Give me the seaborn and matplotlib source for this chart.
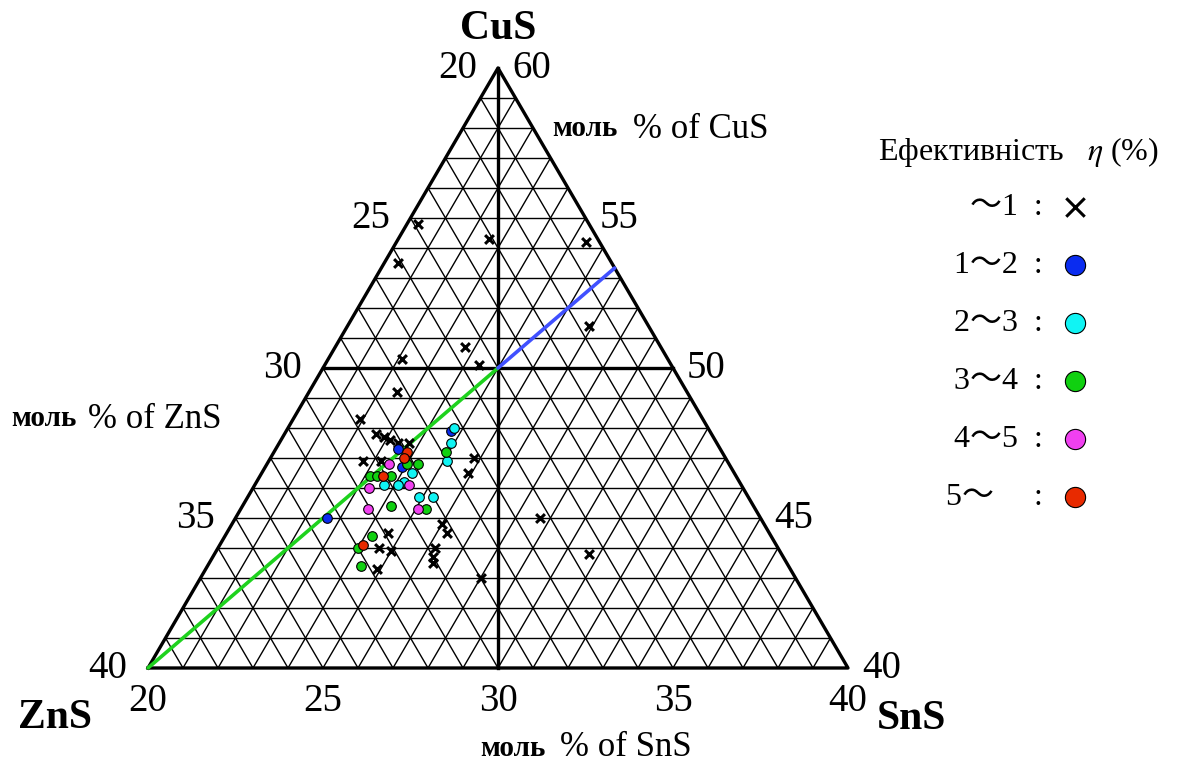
import numpy as np
import pandas as pd
import matplotlib
matplotlib.use("Agg")
import matplotlib.pyplot as plt
import seaborn as sns

# ---------------- data (mol %) ----------------
# efficiency < 1 %
x_cus = [54.8, 54.3, 54.2, 53.5, 51.4, 50.7, 50.3, 50.1, 49.2, 48.3, 47.8, 47.7, 47.6, 47.5, 47.5,
         46.9, 46.9, 47.0, 46.5, 45.0, 43.8, 43.0, 44.8, 44.5, 44.0, 43.7, 43.5, 44.5, 44.0, 43.9, 43.3]
x_sns = [20.3, 22.6, 25.4, 20.4, 26.9, 23.7, 22.1, 24.4, 22.5, 21.9, 22.6, 22.9, 23.1, 23.4, 23.7,
         22.7, 23.2, 25.8, 25.9, 28.7, 30.7, 28.0, 26.0, 26.3, 26.2, 26.3, 26.4, 24.6, 24.6, 25.0, 24.9]
# 1-2 %
b_cus = [47.3, 47.9, 45.0, 46.7]
b_sns = [23.5, 24.7, 22.6, 23.9]
# 2-3 %
c_cus = [48.0, 47.5, 46.9, 46.5, 46.2, 46.1, 46.1, 45.7, 45.7]
c_sns = [24.75, 24.9, 25.1, 24.3, 24.2, 23.7, 24.1, 24.9, 25.3]
# 3-4 %
g_cus = [46.8, 46.8, 46.4, 46.4, 46.4, 47.2, 45.4, 45.3, 44.4, 44.0, 43.4]
g_sns = [24.0, 24.3, 23.15, 23.35, 23.75, 24.9, 24.25, 25.3, 24.2, 24.0, 24.4]
# 4-5 %
m_cus = [46.8, 46.0, 46.1, 45.3, 45.3]
m_sns = [23.5, 23.3, 24.4, 23.65, 25.05]
# > 5 %
r_cus = [47.2, 47.0, 46.4, 44.1]
r_sns = [23.8, 23.8, 23.5, 24.1]

groups = ["～1  :", "1～2  :", "2～3  :", "3～4  :", "4～5  :", "5～     :"]
group_cus = [x_cus, b_cus, c_cus, g_cus, m_cus, r_cus]
group_sns = [x_sns, b_sns, c_sns, g_sns, m_sns, r_sns]
group_colors = ["black", "#0a2cf0", "#10f4f4", "#10d010", "#f040f0", "#e82a00"]

left_ticks = [20, 25, 30, 35, 40]     # ZnS
right_ticks = [60, 55, 50, 45, 40]    # CuS
bottom_ticks = [20, 25, 30, 35, 40]   # SnS

# ---------------- style ----------------
sns.set_style("white")
plt.rcParams["font.family"] = ["Liberation Serif", "Noto Sans CJK JP", "DejaVu Sans"]
plt.rcParams["mathtext.fontset"] = "stix"
plt.rcParams["text.color"] = "black"


def tern(cus, sns_):
    """CuS / SnS (mol %) -> cartesian coordinates of the 20 % sub-triangle."""
    cus = np.asarray(cus, dtype=float)
    sns_ = np.asarray(sns_, dtype=float)
    y = cus - 40.0
    x = (sns_ - 20.0) + y / 2.0
    return x, y


fig = plt.figure(figsize=(11.8, 7.66), dpi=100)
ax = fig.add_axes([0, 0, 1, 1])
ax.set_xlim(-148 / 35, (1180 - 148) / 35)
ax.set_ylim(-(766 - 668) / 30, 668 / 30)
ax.axis("off")

# ---------------- grid ----------------
thin = dict(color="black", lw=1.0, zorder=1)
for k in range(1, 20):
    xa, ya = tern([40 + k, 40 + k], [20, 40 - k])
    ax.plot(xa, ya, **thin)
    xa, ya = tern([40, 60 - k], [20 + k, 20 + k])
    ax.plot(xa, ya, **thin)
    xa, ya = tern([40, 60 - k], [40 - k, 20])
    ax.plot(xa, ya, **thin)

thick = dict(color="black", lw=2.4, zorder=2, solid_capstyle="projecting")
xa, ya = tern([40, 40, 60, 40], [20, 40, 20, 20])
ax.plot(xa, ya, **thick)
xa, ya = tern([50, 50], [20, 30])
ax.plot(xa, ya, **thick)
xa, ya = tern([60, 40], [20, 30])
ax.plot(xa, ya, **thick)

# tie lines
xa, ya = tern([40, 50], [20, 25])
ax.plot(xa, ya, color="#1ed21e", lw=2.6, zorder=3)
xa, ya = tern([50, 50 + 10 / 3], [25, 25 + 5 / 3])
ax.plot(xa, ya, color="#4050ff", lw=2.6, zorder=3)

# ---------------- data points ----------------
for lab, cu, sn, col in zip(groups, group_cus, group_sns, group_colors):
    px, py = tern(cu, sn)
    df = pd.DataFrame({"x": px, "y": py})
    if col == "black":
        sns.scatterplot(data=df, x="x", y="y", marker="x", color="black", s=40,
                        linewidth=2.2, ax=ax, zorder=5, label=lab)
    else:
        sns.scatterplot(data=df, x="x", y="y", marker="o", color=col, s=48,
                        edgecolor="black", linewidth=0.8, ax=ax, zorder=5, label=lab)

handles, labels = ax.get_legend_handles_labels()
if ax.get_legend() is not None:
    ax.get_legend().remove()
leg = fig.legend(handles, labels, loc="upper left", bbox_to_anchor=(862 / 1180, 1 - 119 / 766),
                 markerfirst=False, frameon=False, fontsize=23, markerscale=2.1,
                 handlelength=1.0, handletextpad=0.5, labelspacing=0.9, borderpad=0,
                 title="Ефективність   $\\eta$ (%)", title_fontsize=23, alignment="center")
leg._legend_box.sep = 17

# ---------------- tick labels ----------------
tfs = 28
for z in left_ticks:
    xa, ya = tern(80 - z, 20)
    ax.annotate(str(z), (xa, ya), xytext=(-15, 0), textcoords="offset points",
                ha="right", va="center", fontsize=tfs)
for c in right_ticks:
    xa, ya = tern(c, 80 - c)
    ax.annotate(str(c), (xa, ya), xytext=(10, 0), textcoords="offset points",
                ha="left", va="center", fontsize=tfs)
for s_ in bottom_ticks:
    xa, ya = tern(40, s_)
    ax.annotate(str(s_), (xa, ya), xytext=(0, -24), textcoords="offset points",
                ha="center", va="center", fontsize=tfs)

# vertex labels
vfs = 30
xa, ya = tern(60, 20)
ax.annotate("CuS", (xa, ya), xytext=(0, 28), textcoords="offset points",
            ha="center", va="center", fontsize=vfs, fontweight="bold")
xa, ya = tern(40, 20)
ax.annotate("ZnS", (xa, ya), xytext=(-67, -36), textcoords="offset points",
            ha="center", va="center", fontsize=vfs, fontweight="bold")
xa, ya = tern(40, 40)
ax.annotate("SnS", (xa, ya), xytext=(46, -37), textcoords="offset points",
            ha="center", va="center", fontsize=vfs, fontweight="bold")

# axis titles
def axis_title(x0, x1, yc, comp):
    fig.text(x0 / 1180, 1 - yc / 766, "моль", fontsize=21, fontweight="bold",
             ha="left", va="center")
    fig.text(x1 / 1180, 1 - yc / 766, "% of " + comp, fontsize=25,
             ha="left", va="center")

axis_title(552, 633, 129, "CuS")
axis_title(11, 88, 419, "ZnS")
axis_title(480, 560, 748, "SnS")

fig.savefig("out.png", dpi=100)
